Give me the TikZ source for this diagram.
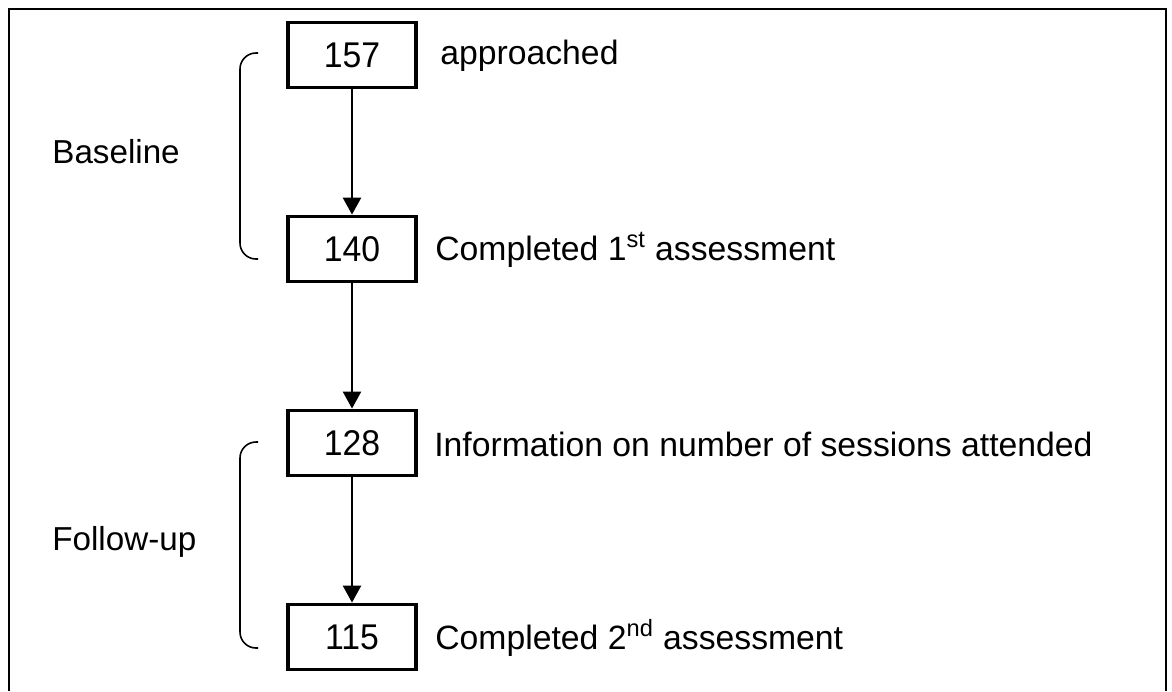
\documentclass[tikz,border=0pt]{standalone}
\usepackage{fontspec}
\setmainfont{Liberation Sans}
\usepackage{tikz}
\usetikzlibrary{arrows.meta, positioning}
\newcommand{\cnt}[1]{\scalebox{1}[1.06]{#1}}

\begin{document}
\begin{tikzpicture}[x=0.02cm, y=-0.02cm,
  every node/.style={font=\fontsize{19.2}{23}\selectfont},
  countbox/.style={draw, line width=2.2pt, minimum width=2.55cm, minimum height=1.3cm, inner sep=0pt, font=\fontsize{19.2}{23}\selectfont},
  steptext/.style={anchor=west, inner sep=0pt},
  phase/.style={anchor=west, inner sep=0pt, font=\fontsize{18.9}{22}\selectfont},
  line/.style={draw, line width=1.4pt, -{Triangle[length=0.34cm, width=0.36cm]}},
  brace/.style={draw, line width=0.9pt, rounded corners=0.32cm}]
\useasboundingbox (0,0) rectangle (1172,691);
% outer frame
\draw[line width=1.5pt] (9,691) -- (9,9) -- (1166,9) -- (1166,691);
% counts
\node[countbox] (approached) at (352,55) {\cnt{157}};
\node[countbox] (first) at (352,249) {\cnt{140}};
\node[countbox] (sessions) at (352,443) {\cnt{128}};
\node[countbox] (second) at (352,637) {\cnt{115}};
\node[steptext] (tapproached) at (440,56) {approached};
\node[steptext] (tfirst) at (435,250) {Completed 1\textsuperscript{st} assessment};
\node[steptext] (tsessions) at (434,444) {Information on number of sessions attended};
\node[steptext] (tsecond) at (435,638) {Completed 2\textsuperscript{nd} assessment};
\draw[line] (approached) -- (first);
\draw[line] (first) -- (sessions);
\draw[line] (sessions) -- (second);
% phases
\coordinate (b1t) at (258,53);
\coordinate (b1b) at (258,259);
\coordinate (b2t) at (258,442);
\coordinate (b2b) at (258,648);
\draw[brace] (b1t) -- (240,53) -- (240,259) -- (b1b);
\draw[brace] (b2t) -- (240,442) -- (240,648) -- (b2b);
\node[phase] (baseline) at (52,152) {Baseline};
\node[phase] (followup) at (52,542) {Follow-up};
\end{tikzpicture}
\end{document}
